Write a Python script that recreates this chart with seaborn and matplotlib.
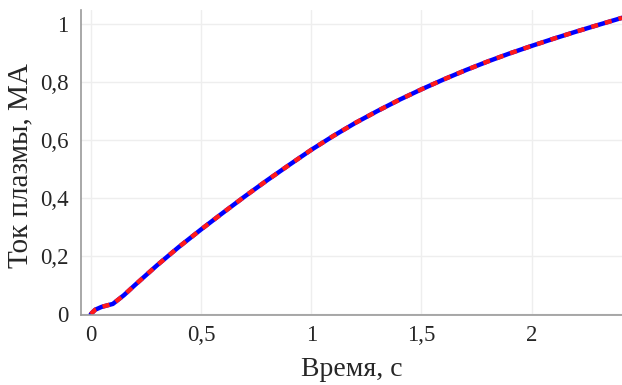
import matplotlib
matplotlib.use("Agg")
import matplotlib.pyplot as plt
import seaborn as sns
import pandas as pd

# values
time_s = [0.0, 0.02, 0.05, 0.1, 0.15, 0.2, 0.3, 0.4, 0.5, 0.6, 0.7, 0.8, 0.9, 1.0,
          1.1, 1.2, 1.3, 1.4, 1.5, 1.6, 1.7, 1.8, 1.9, 2.0, 2.1, 2.2, 2.3, 2.41]
current_ma = [0.0, 0.015, 0.025, 0.035, 0.065, 0.1, 0.168, 0.232, 0.292, 0.35, 0.407,
              0.462, 0.515, 0.567, 0.615, 0.66, 0.701, 0.74, 0.776, 0.81, 0.842, 0.872,
              0.9, 0.926, 0.951, 0.975, 0.998, 1.023]
x_ticks = [0, 0.5, 1, 1.5, 2]
x_labels = ["0", "0,5", "1", "1,5", "2"]
y_ticks = [0, 0.2, 0.4, 0.6, 0.8, 1]
y_labels = ["0", "0,2", "0,4", "0,6", "0,8", "1"]

df = pd.DataFrame({"t": time_s, "ip": current_ma})

sns.set_style("white")
plt.rcParams["font.family"] = ["Liberation Serif", "DejaVu Serif"]

fig = plt.figure(figsize=(6.22, 3.85), dpi=100)
ax = fig.add_axes([0.13, 0.182, 0.87, 0.792])

sns.lineplot(data=df, x="t", y="ip", ax=ax, color="#0000ff", linewidth=3.2)
sns.lineplot(data=df, x="t", y="ip", ax=ax, color="#ff1a1a", linewidth=3.2,
             dashes=False, linestyle=(0, (1.6, 1.6)))

ax.set_xlim(-0.045, 2.41)
ax.set_ylim(-0.003, 1.05)
ax.set_xticks(x_ticks)
ax.set_xticklabels(x_labels, fontsize=16.5)
ax.set_yticks(y_ticks)
ax.set_yticklabels(y_labels, fontsize=16.5)
ax.grid(True, color="#eeeeee", linewidth=1)
ax.tick_params(axis="x", direction="in", length=17, color="#bbbbbb", pad=7)
ax.tick_params(axis="y", direction="out", length=5, color="#555555", pad=4)

for side in ["top", "right"]:
    ax.spines[side].set_visible(False)
for side in ["left", "bottom"]:
    ax.spines[side].set_color("#999999")
    ax.spines[side].set_linewidth(1.2)

ax.set_xlabel("Время, с", fontsize=20, labelpad=8)
ax.set_ylabel("Ток плазмы, МА", fontsize=21)
ax.yaxis.set_label_coords(-0.087, 0.49)

fig.savefig("out.png", dpi=100)
